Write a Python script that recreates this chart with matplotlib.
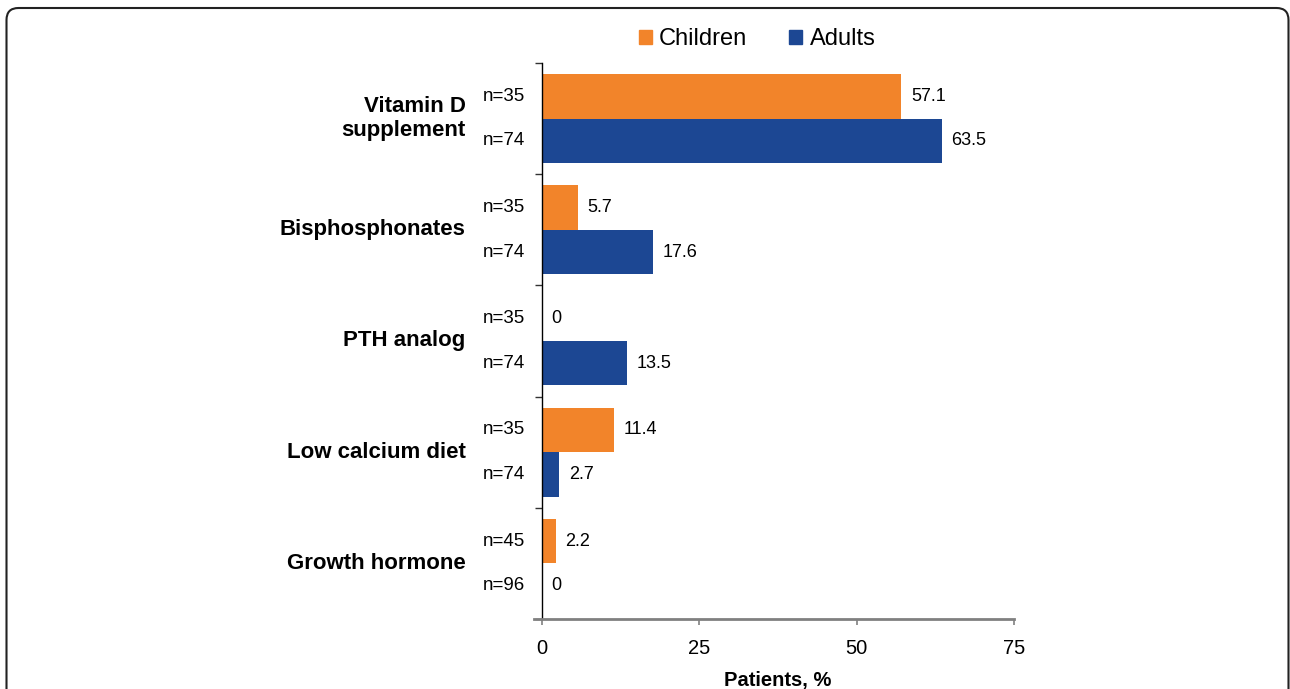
import numpy as np
import matplotlib
matplotlib.use("Agg")
import matplotlib.pyplot as plt
from matplotlib.patches import Patch, FancyBboxPatch

plt.rcParams['font.family'] = ['Liberation Sans', 'DejaVu Sans']

# data
categories = ['Vitamin D\nsupplement', 'Bisphosphonates', 'PTH analog',
              'Low calcium diet', 'Growth hormone']
children = [57.1, 5.7, 0, 11.4, 2.2]
adults = [63.5, 17.6, 13.5, 2.7, 0]
n_children = ['n=35', 'n=35', 'n=35', 'n=35', 'n=45']
n_adults = ['n=74', 'n=74', 'n=74', 'n=74', 'n=96']
xticks = [0, 25, 50, 75]

c_orange = '#F2842A'
c_blue = '#1C4793'

fig = plt.figure(figsize=(12.9, 6.89), dpi=100)
ax = fig.add_axes([542/1290, 1 - 619/689, 472/1290, 556/689])

y = np.arange(len(categories))
h = 0.4
ax.barh(y - h/2, children, height=h, color=c_orange)
ax.barh(y + h/2, adults, height=h, color=c_blue)

ax.set_xlim(0, 75)
ax.set_ylim(len(categories) - 0.5, -0.5)

#value labels and n= labels
for i in range(len(categories)):
    for val, yy in ((children[i], y[i] - h/2), (adults[i], y[i] + h/2)):
        ax.annotate(f'{val:g}', xy=(val, yy), xytext=(7, 0),
                    textcoords='offset points', ha='left', va='center',
                    fontsize=13)
    ax.annotate(n_children[i], xy=(0, y[i] - h/2), xycoords=('axes fraction', 'data'),
                xytext=(-12, 0), textcoords='offset points',
                ha='right', va='center', fontsize=13.5)
    ax.annotate(n_adults[i], xy=(0, y[i] + h/2), xycoords=('axes fraction', 'data'),
                xytext=(-12, 0), textcoords='offset points',
                ha='right', va='center', fontsize=13.5)
    ax.annotate(categories[i], xy=(0, y[i]), xycoords=('axes fraction', 'data'),
                xytext=(-55, 0), textcoords='offset points',
                ha='right', va='center', multialignment='right',
                fontsize=16, fontweight='bold', linespacing=1.2)

# y ticks at group boundaries, no labels
ax.set_yticks(np.arange(len(categories) + 1) - 0.5)
ax.set_yticklabels([])
ax.tick_params(axis='y', direction='out', length=5, width=1, color='#333333')

ax.set_xticks(xticks)
ax.tick_params(axis='x', direction='out', length=4.5, width=1.2,
               color='#808080', labelsize=14.5, pad=10)
ax.set_xlabel('Patients, %', fontsize=14.5, fontweight='bold', labelpad=9)

ax.spines['top'].set_visible(False)
ax.spines['right'].set_visible(False)
ax.spines['left'].set_linewidth(1)
ax.spines['left'].set_color('black')
ax.spines['bottom'].set_color('#808080')
ax.spines['bottom'].set_linewidth(2)
ax.spines['bottom'].set_bounds(-1.2, 75)

handles = [Patch(color=c_orange, label='Children'), Patch(color=c_blue, label='Adults')]
fig.legend(handles=handles, loc='center', bbox_to_anchor=(757/1290, 1 - 39/689),
           ncol=2, frameon=False, fontsize=17, handlelength=0.55, handleheight=0.55,
           handletextpad=0.3, columnspacing=1.8)

# rounded border around the figure (runs off the bottom)
border = FancyBboxPatch((0.065, -0.5), 12.82, 6.81 + 0.5,
                        boxstyle='round,pad=0,rounding_size=0.12',
                        transform=fig.dpi_scale_trans, fill=False,
                        edgecolor='#222222', linewidth=1.5, clip_on=False)
fig.patches.append(border)

fig.savefig('out.png', dpi=100)
